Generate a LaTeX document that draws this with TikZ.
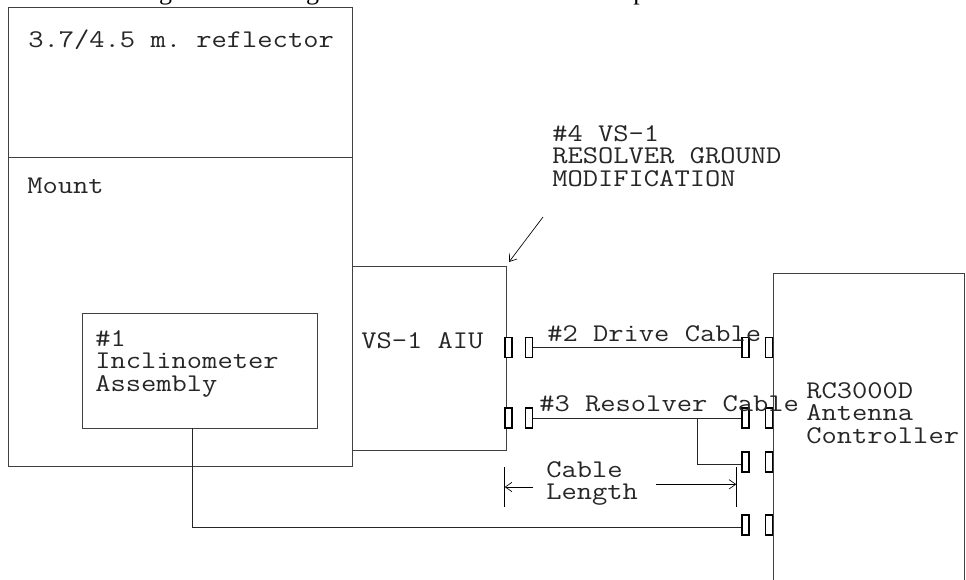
\documentclass[tikz,border=0pt]{standalone}
\usepackage{fontspec}
\setmonofont[FakeStretch=1.165]{Latin Modern Mono}
\setmainfont{Liberation Serif}
\usetikzlibrary{arrows.meta}
\tikzset{
  x=0.75pt,y=-0.75pt,
  box/.style={draw=black!75,line width=0.75pt},
  wire/.style={draw=black!85,line width=0.75pt},
  conn/.style={draw=black,line width=1.1pt,fill=white,inner sep=0pt,minimum width=5.2pt,minimum height=15pt},
  lab/.style={font=\ttfamily\fontsize{19.1}{16.9}\selectfont,anchor=north west,align=left,inner sep=0pt,text=black!85},
  arr/.style={draw=black,line width=0.5pt,-{Straight Barb[length=5pt,width=7pt,line width=0.5pt]}},
  tick/.style={draw=black,line width=0.5pt}
}
\newcommand{\plug}[3]{\node[conn] (#1) at (#2,#3) {};}
\begin{document}
\begin{tikzpicture}
\useasboundingbox (0,0) rectangle (966,580);
\begin{scope}
\clip (0,0) rectangle (966,7);
\node[anchor=base west,inner sep=0pt,font=\fontsize{19.5}{20}\selectfont] (top) at (8,-0.3) {\spaceskip=16.7pt\relax The following block diagram shows the four components of the interface};
\end{scope}
\draw[box] (8,8) rectangle (352,158);
\draw[box] (8,158) rectangle (352,466);
\draw[box] (82,314) rectangle (317,428);
\draw[box] (352,267) rectangle (506,450);
\draw[box] (964,580) -- (964,274) -- (773,274) -- (773,580);
\coordinate (c1) at (192,428);
\plug{a1}{508.5}{347.7}\plug{a2}{529}{347.7}\plug{a3}{745.5}{347.7}\plug{a4}{769}{347.7}
\plug{b1}{508.5}{418}\plug{b2}{529}{418}\plug{b3}{745.5}{418}\plug{b4}{769}{418}
\plug{d3}{745.5}{462}\plug{d4}{769}{462}
\plug{e3}{745.5}{525}\plug{e4}{769}{525}
\draw[wire] (a2) -- (a3);
\draw[wire] (b2) -- (b3);
\coordinate (br) at (697,418);
\coordinate (brc) at (697,464);
\draw[wire] (br) -- (brc) -- (d3.west|-brc);
\coordinate (cc) at (192,527);
\draw[wire] (c1) -- (cc) -- (e3.west|-cc);
\node[lab] (t1) at (28,30) {3.7/4.5 m. reflector};
\node[lab] (t2) at (27,178) {Mount};
\node[lab] (t3) at (95,330) {\#1\\Inclinometer\\Assembly};
\node[lab] (t4) at (361,332) {VS-1 AIU};
\node[lab] (t5) at (552,125) {\#4 VS-1\\RESOLVER GROUND\\MODIFICATION};
\node[lab] (t6) at (547,325) {\#2 Drive Cable};
\node[lab] (t7) at (539,395) {\#3 Resolver Cable};
\node[lab] (t8) at (546,461) {Cable\\Length};
\node[lab] (t9) at (806,382) {RC3000D\\Antenna\\Controller};
\coordinate (q1) at (543,217);
\coordinate (q2) at (509,262);
\draw[arr] (q1) -- (q2);
\coordinate (l1) at (504.7,467); \coordinate (l2) at (504.7,507);
\coordinate (r1) at (736.3,467); \coordinate (r2) at (736.3,507);
\draw[tick] (l1) -- (l2);
\draw[tick] (r1) -- (r2);
\coordinate (la) at (533,487); \coordinate (lb) at (l1|-la);
\draw[arr] (la) -- (lb);
\coordinate (ra) at (656,484.3); \coordinate (rb) at (r1|-ra);
\draw[arr] (ra) -- (rb);
\end{tikzpicture}
\end{document}
